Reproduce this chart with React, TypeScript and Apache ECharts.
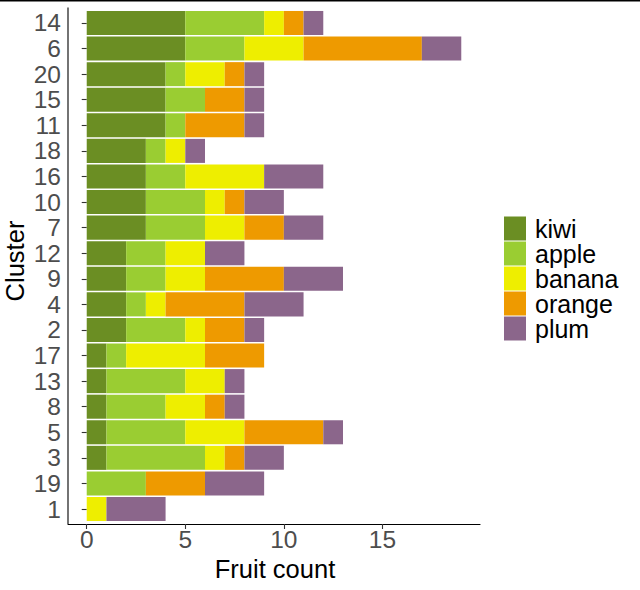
import React, { useEffect, useRef } from "react";
import * as echarts from "echarts";

const clusters = ["14", "6", "20", "15", "11", "18", "16", "10", "7", "12", "9", "4", "2", "17", "13", "8", "5", "3", "19", "1"];
const fruits = ["kiwi", "apple", "banana", "orange", "plum"];
const kiwi = [5, 5, 4, 4, 4, 3, 3, 3, 3, 2, 2, 2, 2, 1, 1, 1, 1, 1, 0, 0];
const apple = [4, 3, 1, 2, 1, 1, 2, 3, 3, 2, 2, 1, 3, 1, 4, 3, 4, 5, 3, 0];
const banana = [1, 3, 2, 0, 0, 1, 4, 1, 2, 2, 2, 1, 1, 4, 2, 2, 3, 1, 0, 1];
const orange = [1, 6, 1, 2, 3, 0, 0, 1, 2, 0, 4, 4, 2, 3, 0, 1, 4, 1, 3, 0];
const plum = [1, 2, 1, 1, 1, 1, 3, 2, 2, 2, 3, 3, 1, 0, 1, 1, 1, 2, 3, 3];
const xTicks = [0, 5, 10, 15];
const colors = ["#6B8E23", "#9ACD32", "#EEEE00", "#EE9A00", "#8B668B"];

export default function App() {
  const ref = useRef<HTMLDivElement>(null);
  useEffect(() => {
    if (!ref.current) return;
    const chart = echarts.init(ref.current, undefined, { renderer: "svg" });
    const values = [kiwi, apple, banana, orange, plum];
    const font = "Liberation Sans, Arial, sans-serif";
    chart.setOption({
      animation: false,
      backgroundColor: "#fff",
      grid: { left: 68, top: 10.2, width: 412, height: 511.6 },
      xAxis: {
        type: "value",
        min: -0.95,
        max: 19.95,
        offset: 2.2,
        splitLine: { show: false },
        axisLine: { show: true, lineStyle: { color: "#000", width: 1.1 } },
        axisTick: { show: true, length: 5, customValues: xTicks, lineStyle: { color: "#333", width: 1.1 } },
        axisLabel: { customValues: xTicks, fontSize: 24.5, color: "#4D4D4D", fontFamily: font, margin: 3 },
      },
      yAxis: {
        type: "category",
        inverse: true,
        data: clusters,
        axisLine: { show: false },
        axisTick: { show: true, length: 5, alignWithLabel: true, lineStyle: { color: "#333", width: 1.1 } },
        axisLabel: { interval: 0, fontSize: 24.5, color: "#4D4D4D", fontFamily: font, margin: 7 },
      },
      legend: {
        orient: "vertical",
        left: 504,
        top: 216,
        padding: 0,
        itemWidth: 22,
        itemHeight: 24,
        itemGap: 0,
        icon: "rect",
        data: fruits,
        textStyle: { fontSize: 25, color: "#000", fontFamily: font, padding: [0, 0, 0, 4], lineHeight: 24 },
      },
      graphic: [
        { type: "rect", shape: { x: 0, y: 0, width: 640, height: 1.5 }, style: { fill: "#000" } },
        { type: "line", shape: { x1: 68, y1: 7.6, x2: 68, y2: 524 }, style: { stroke: "#000", lineWidth: 1.1 } },
        {
          type: "text",
          x: 275,
          y: 568.5,
          style: { text: "Fruit count", fontSize: 25.5, fill: "#000", fontFamily: font, align: "center", verticalAlign: "middle" },
        },
        {
          type: "text",
          x: 14.5,
          y: 261,
          rotation: Math.PI / 2,
          style: { text: "Cluster", fontSize: 25.5, fill: "#000", fontFamily: font, align: "center", verticalAlign: "middle" },
        },
      ],
      series: fruits.map((f, i) => ({
        name: f,
        type: "bar",
        stack: "total",
        data: values[i],
        barCategoryGap: "6%",
        itemStyle: { color: colors[i] },
      })),
    });
    return () => chart.dispose();
  }, []);
  return <div ref={ref} style={{ position: "fixed", left: 0, top: 0, width: 640, height: 590 }} />;
}
